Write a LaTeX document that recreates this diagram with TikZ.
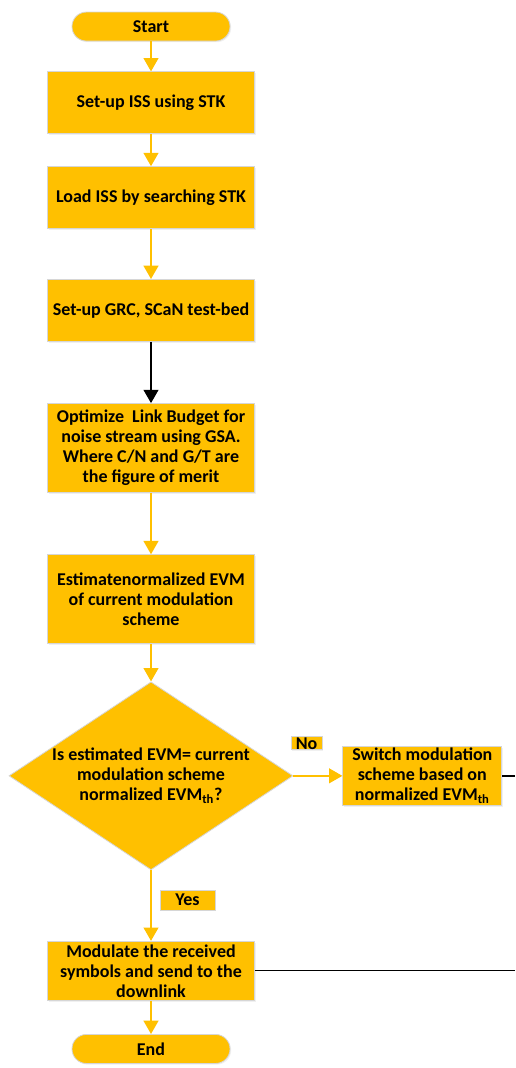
\documentclass[tikz,border=0pt]{standalone}
\usepackage{fontspec}
\setmainfont{Carlito}
\usetikzlibrary{positioning, shapes.geometric, arrows.meta, shadows}

\definecolor{gold}{HTML}{FFC000}
\definecolor{rim}{HTML}{D6D6D6}

\begin{document}
\begin{tikzpicture}[font=\bfseries\fontsize{13.5}{15}\selectfont,
    box/.style={rectangle, fill=gold, draw=rim, line width=0.6pt, align=center,
        drop shadow={shadow xshift=0.9pt, shadow yshift=-0.9pt, opacity=0.12}},
    terminal/.style={box, rounded corners=10.8pt, minimum width=118.5pt, minimum height=21.75pt},
    process/.style={box, minimum width=155.25pt, minimum height=46.5pt, inner sep=1pt},
    decision/.style={diamond, fill=gold, draw=rim, line width=0.6pt, inner sep=0pt,
        minimum width=213pt, minimum height=141pt},
    tag/.style={box, inner sep=0pt},
    flow/.style={draw=gold, line width=1.5pt, -{Triangle[width=11pt, length=10pt]}},
    link/.style={draw=black, line width=1pt}]
    \useasboundingbox (0,0) rectangle (386.25pt,-801pt);

    \node[terminal] (start) at (113.25pt,-19.9pt) {Start};
    \node[process, below=22.5pt of start] (setup) {Set-up ISS using STK};
    \node[process, below=24pt of setup] (load) {Load ISS by searching STK};
    \node[process, below=37.5pt of load] (bed) {Set-up GRC, SCaN test-bed};
    \node[process, below=46pt of bed,
          minimum height=66.75pt] (budget) {Optimize\ \ Link Budget for\\
          noise stream using GSA.\\ Where C/N and G/T are\\ the figure of merit};
    \node[process, below=46pt of budget,
          minimum height=66.75pt] (evm) {Estimatenormalized EVM\\
          of current modulation\\ scheme};
    \node[decision, below=28pt of evm,
          label={[align=center]center:{Is estimated EVM= current\\
          modulation scheme\\ normalized EVM\textsubscript{th}?}}] (check) {};
    \node[process, right=36.75pt of check, minimum width=119.25pt,
          minimum height=44.25pt] (switch) {Switch modulation\\
          scheme based on\\ normalized EVM\textsubscript{th}};
    \node[process, below=53pt of check,
          minimum height=44.25pt] (send) {Modulate the received\\
          symbols and send to the\\ downlink};
    \node[terminal, below=25pt of send] (stop) {End};

    \coordinate (loopa) at (386.25pt,0 |- switch.east);
    \coordinate (loopb) at (386.25pt,0 |- send.east);

    \draw[flow] (start) -- (setup);
    \draw[flow] (setup) -- (load);
    \draw[flow] (load) -- (bed);
    \draw[flow, draw=black] (bed) -- (budget);
    \draw[flow] (budget) -- (evm);
    \draw[flow] (evm) -- (check);
    \draw[flow] (check.east) -- node[tag, pos=0.27, yshift=24.4pt,
          minimum width=23.25pt, minimum height=9.75pt] (no) {No} (switch.west);
    \draw[flow] (check.south) -- node[tag, pos=0.42, xshift=27.4pt,
          minimum width=41.25pt, minimum height=15pt] (yes) {Yes} (send.north);
    \draw[flow] (send) -- (stop);
    \draw[link] (switch.east) -- (loopa);
    \draw[link] (send.east) -- (loopb);
\end{tikzpicture}
\end{document}
